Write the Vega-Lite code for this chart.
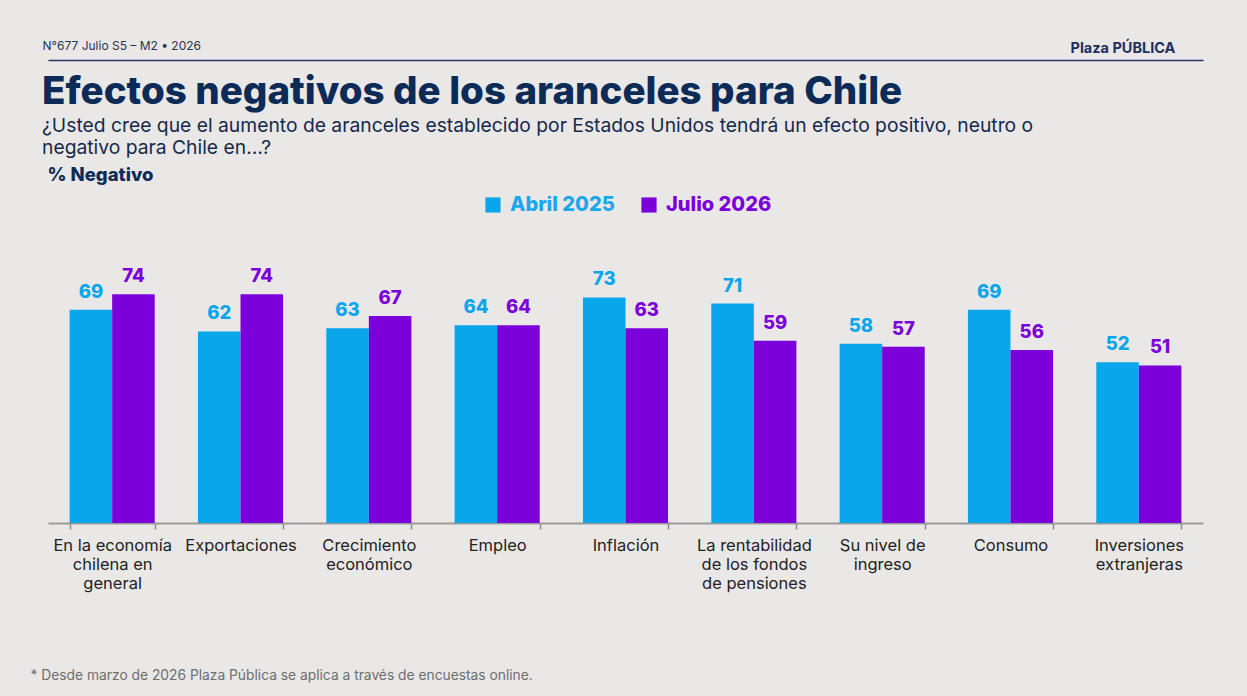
{
  "$schema": "https://vega.github.io/schema/vega-lite/v6.json",
  "width": 1155,
  "height": 309,
  "autosize": {"type": "none"},
  "padding": {"left": 48, "top": 214, "right": 44, "bottom": 173},
  "background": "#E9E8E7",
  "title": {
    "text": "Efectos negativos de los aranceles para Chile",
    "subtitle": ["¿Usted cree que el aumento de aranceles establecido por Estados Unidos tendrá un efecto positivo, neutro o", "negativo para Chile en…?"],
    "anchor": "start",
    "frame": "group",
    "dx": -6,
    "offset": -120,
    "font": "Inter",
    "fontSize": 38.5,
    "fontWeight": 800,
    "color": "#0C2B57",
    "subtitleFont": "Inter",
    "subtitleFontSize": 19.3,
    "subtitleColor": "#16294A",
    "subtitleLineHeight": 22,
    "subtitlePadding": 4
  },
  "data": {
    "values": [
      {"categoria": "En la economía\nchilena en\ngeneral", "serie": "Abril 2025", "valor": 69},
      {"categoria": "En la economía\nchilena en\ngeneral", "serie": "Julio 2026", "valor": 74},
      {"categoria": "Exportaciones", "serie": "Abril 2025", "valor": 62},
      {"categoria": "Exportaciones", "serie": "Julio 2026", "valor": 74},
      {"categoria": "Crecimiento\neconómico", "serie": "Abril 2025", "valor": 63},
      {"categoria": "Crecimiento\neconómico", "serie": "Julio 2026", "valor": 67},
      {"categoria": "Empleo", "serie": "Abril 2025", "valor": 64},
      {"categoria": "Empleo", "serie": "Julio 2026", "valor": 64},
      {"categoria": "Inflación", "serie": "Abril 2025", "valor": 73},
      {"categoria": "Inflación", "serie": "Julio 2026", "valor": 63},
      {"categoria": "La rentabilidad\nde los fondos\nde pensiones", "serie": "Abril 2025", "valor": 71},
      {"categoria": "La rentabilidad\nde los fondos\nde pensiones", "serie": "Julio 2026", "valor": 59},
      {"categoria": "Su nivel de\ningreso", "serie": "Abril 2025", "valor": 58},
      {"categoria": "Su nivel de\ningreso", "serie": "Julio 2026", "valor": 57},
      {"categoria": "Consumo", "serie": "Abril 2025", "valor": 69},
      {"categoria": "Consumo", "serie": "Julio 2026", "valor": 56},
      {"categoria": "Inversiones\nextranjeras", "serie": "Abril 2025", "valor": 52},
      {"categoria": "Inversiones\nextranjeras", "serie": "Julio 2026", "valor": 51}
    ]
  },
  "resolve": {"axis": {"x": "independent", "y": "independent"}},
  "layer": [
    {
      "mark": {"type": "bar"},
      "encoding": {
        "x": {
          "field": "categoria", "type": "nominal", "sort": null,
          "scale": {"paddingInner": 0.337, "paddingOuter": 0.1685},
          "axis": {
            "orient": "bottom",
            "labelExpr": "isString(datum.value) ? split(datum.value, '\\n') : ''",
            "labelAngle": 0,
            "labelFont": "Inter",
            "labelFontSize": 16.5,
            "labelColor": "#222222",
            "labelLineHeight": 19,
            "labelPadding": 8,
            "labelBaseline": "top",
            "tickBand": "extent",
            "tickColor": "#8C8C8C",
            "tickSize": 6,
            "tickWidth": 1.5,
            "domainColor": "#9A9A9A",
            "domainWidth": 2,
            "grid": false,
            "title": "* Desde marzo de 2026 Plaza Pública se aplica a través de encuestas online.",
            "titleX": -18,
            "titleY": 152,
            "titleAlign": "left",
            "titleBaseline": "middle",
            "titleFont": "Inter",
            "titleFontSize": 13.8,
            "titleFontWeight": "normal",
            "titleColor": "#6E6E6E"
          }
        },
        "xOffset": {"field": "serie", "type": "nominal"},
        "y": {
          "field": "valor", "type": "quantitative",
          "scale": {"domain": [0, 100]},
          "axis": {
            "orient": "left",
            "labels": false, "ticks": false, "domain": false, "grid": false,
            "title": "% Negativo",
            "titleAngle": 0,
            "titleX": -1,
            "titleY": -40,
            "titleAlign": "left",
            "titleBaseline": "middle",
            "titleFont": "Inter",
            "titleFontSize": 18.5,
            "titleFontWeight": 800,
            "titleColor": "#0C2B57"
          }
        },
        "color": {
          "field": "serie", "type": "nominal",
          "scale": {"domain": ["Abril 2025", "Julio 2026"], "range": ["#0AA6EC", "#7B00D9"]},
          "legend": {
            "orient": "none",
            "legendX": 435,
            "legendY": -19,
            "direction": "horizontal",
            "title": null,
            "symbolType": "square",
            "symbolSize": 230,
            "symbolStrokeWidth": 0,
            "symbolOpacity": 1,
            "labelFont": "Inter",
            "labelFontSize": 20,
            "labelFontWeight": 800,
            "labelOffset": 7,
            "columnPadding": 24,
            "labelLimit": 300,
            "encode": {"labels": {"update": {"fill": {"signal": "datum.label === 'Abril 2025' ? '#1BA7EC' : '#7B00D9'"}}}}
          }
        }
      }
    },
    {
      "mark": {"type": "text", "baseline": "bottom", "dy": -8, "font": "Inter", "fontSize": 18.5, "fontWeight": 800},
      "encoding": {
        "x": {
          "field": "categoria", "type": "nominal", "sort": null,
          "axis": {
            "orient": "top",
            "offset": 154,
            "labels": false, "ticks": false, "grid": false,
            "domain": true,
            "domainColor": "#2B3566",
            "domainWidth": 1.5,
            "title": "N°677 Julio S5 – M2 • 2026",
            "titleX": -6,
            "titleY": -15,
            "titleAlign": "left",
            "titleBaseline": "middle",
            "titleFont": "Inter",
            "titleFontSize": 12,
            "titleFontWeight": "normal",
            "titleColor": "#2A3350"
          }
        },
        "xOffset": {"field": "serie", "type": "nominal"},
        "y": {
          "field": "valor", "type": "quantitative",
          "axis": {
            "orient": "right",
            "labels": false, "ticks": false, "domain": false, "grid": false,
            "title": "Plaza PÚBLICA",
            "titleAngle": 0,
            "titleX": -133,
            "titleY": -166,
            "titleAlign": "left",
            "titleBaseline": "middle",
            "titleFont": "Inter",
            "titleFontSize": 14.5,
            "titleFontWeight": 700,
            "titleColor": "#1F2F5C"
          }
        },
        "text": {"field": "valor", "type": "quantitative"},
        "color": {"field": "serie", "type": "nominal"}
      }
    }
  ],
  "config": {"view": {"stroke": null}}
}
